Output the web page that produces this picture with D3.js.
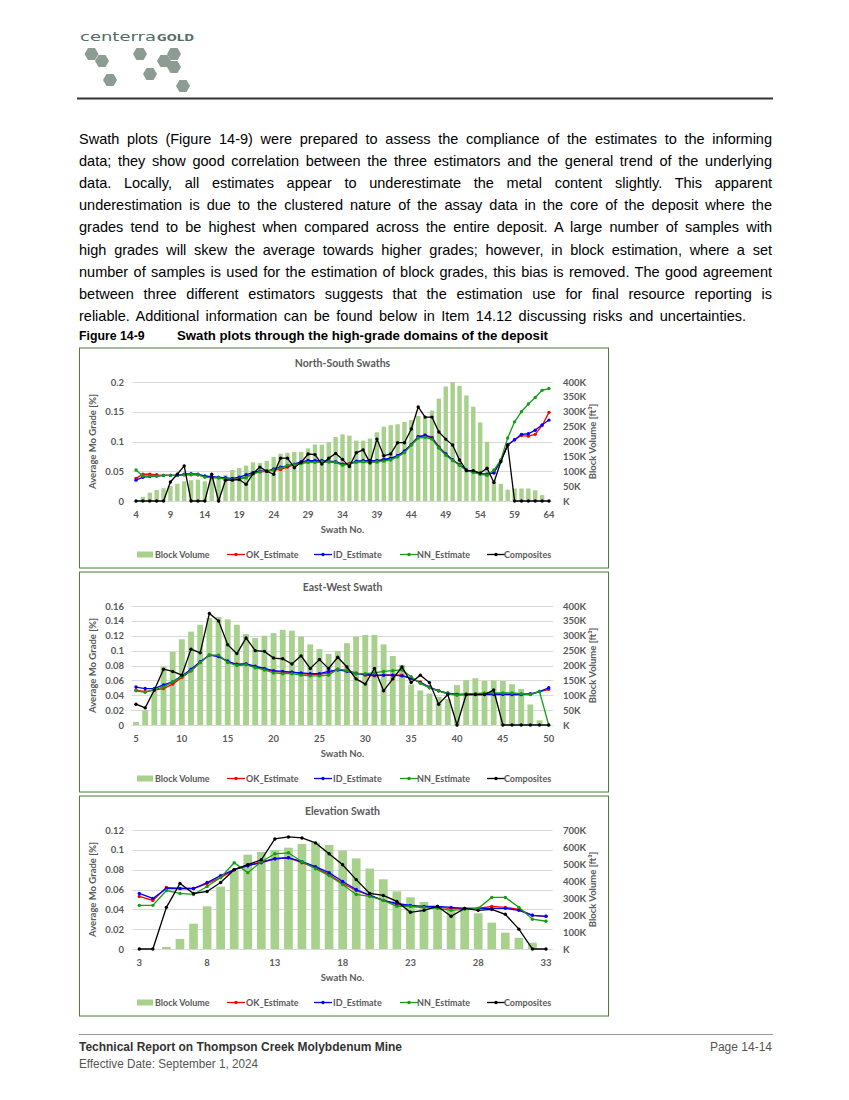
<!DOCTYPE html>
<html><head><meta charset="utf-8">
<script src="https://cdn.jsdelivr.net/npm/d3@7"></script>
<style>
body{margin:0;background:#fff;}
.chart text{font-family:Lato,"Open Sans",sans-serif;font-weight:700;fill:#595959;}
</style></head>
<body><svg id="page" width="849" height="1100"></svg>
<script>
// ---------------- DATA ----------------
const bodyLines = [
"Swath plots (Figure 14-9) were prepared to assess the compliance of the estimates to the informing",
"data; they show good correlation between the three estimators and the general trend of the underlying",
"data. Locally, all estimates appear to underestimate the metal content slightly. This apparent",
"underestimation is due to the clustered nature of the assay data in the core of the deposit where the",
"grades tend to be highest when compared across the entire deposit. A large number of samples with",
"high grades will skew the average towards higher grades; however, in block estimation, where a set",
"number of samples is used for the estimation of block grades, this bias is removed. The good agreement",
"between three different estimators suggests that the estimation use for final resource reporting is",
"reliable. Additional information can be found below in Item 14.12 discussing risks and uncertainties."
];
const legendNames = ["Block Volume","OK_Estimate","ID_Estimate","NN_Estimate","Composites"];

// North-South
const nsSwath = [4,5,6,7,8,9,10,11,12,13,14,15,16,17,18,19,20,21,22,23,24,25,26,27,28,29,30,31,32,33,34,35,36,37,38,39,40,41,42,43,44,45,46,47,48,49,50,51,52,53,54,55,56,57,58,59,60,61,62,63,64];
const nsVolume = [0,14,28,37,43,50,58,66,70,72,66,75,75,88,104,111,119,130,128,135,148,159,162,165,165,177,190,189,198,215,224,220,203,203,210,231,250,255,258,266,272,286,280,304,344,385,400,387,355,317,264,199,70,58,38,42,42,42,36,20,0];
const nsOK = [.038,.045,.045,.044,.043,.043,.043,.044,.044,.044,.041,.040,.039,.037,.036,.038,.040,.046,.049,.050,.052,.053,.057,.061,.064,.066,.066,.066,.066,.065,.062,.063,.066,.067,.066,.066,.069,.071,.076,.083,.095,.108,.111,.107,.091,.079,.069,.061,.052,.049,.046,.044,.048,.068,.094,.103,.110,.109,.112,.127,.149];
const nsID = [.035,.040,.041,.042,.043,.043,.043,.045,.046,.045,.042,.041,.040,.039,.038,.040,.044,.048,.050,.050,.054,.057,.059,.062,.066,.068,.068,.068,.067,.066,.062,.062,.067,.068,.068,.068,.070,.072,.076,.084,.095,.108,.110,.106,.090,.079,.069,.061,.052,.049,.046,.045,.047,.068,.094,.103,.112,.113,.119,.128,.136];
const nsNN = [.052,.042,.042,.042,.043,.043,.043,.044,.045,.044,.040,.039,.039,.037,.036,.037,.039,.046,.049,.051,.052,.055,.060,.061,.063,.065,.065,.066,.066,.065,.060,.062,.065,.066,.065,.066,.067,.069,.074,.081,.094,.106,.107,.104,.089,.077,.068,.060,.051,.048,.045,.043,.052,.069,.106,.133,.150,.163,.174,.186,.189];
const nsComp = [0,0,0,0,0,.032,.045,.059,0,0,0,.045,0,.035,.035,.036,.028,.046,.057,.050,.045,.072,.072,.056,.065,.079,.078,.062,.072,.080,.070,.058,.081,.086,.064,.104,.076,.079,.098,.098,.121,.158,.141,.141,.116,.104,.094,.069,.051,.051,.047,.055,.031,.066,.094,0,0,0,0,0,0];
const nsXTicks = [4,9,14,19,24,29,34,39,44,49,54,59,64];
const nsGradeTicks = [0,0.05,0.1,0.15,0.2];
const nsVolTicks = [0,50,100,150,200,250,300,350,400];

// East-West
const ewSwath = [5,6,7,8,9,10,11,12,13,14,15,16,17,18,19,20,21,22,23,24,25,26,27,28,29,30,31,32,33,34,35,36,37,38,39,40,41,42,43,44,45,46,47,48,49,50];
const ewVolume = [10,49,115,196,246,288,314,337,360,363,355,337,306,292,300,309,320,317,297,271,255,239,249,275,297,303,303,271,232,202,136,116,106,95,87,134,151,157,148,150,148,137,121,69,16,0];
const ewOK = [.047,.045,.047,.049,.055,.064,.073,.084,.094,.093,.085,.082,.082,.078,.075,.072,.071,.071,.069,.068,.068,.070,.075,.073,.070,.067,.066,.067,.067,.067,.062,.058,.050,.046,.042,.041,.041,.042,.042,.042,.042,.041,.041,.041,.045,.048];
const ewID = [.051,.049,.049,.054,.058,.066,.075,.085,.094,.092,.086,.081,.082,.079,.076,.073,.072,.071,.070,.069,.069,.072,.074,.072,.069,.068,.067,.067,.067,.066,.063,.057,.051,.046,.043,.041,.041,.041,.041,.041,.041,.041,.041,.042,.045,.050];
const ewNN = [.046,.044,.048,.051,.058,.065,.073,.084,.094,.094,.084,.080,.081,.077,.074,.070,.069,.069,.067,.066,.066,.067,.075,.073,.069,.069,.070,.072,.073,.074,.065,.056,.050,.046,.042,.040,.042,.042,.043,.043,.043,.043,.042,.041,.045,0];
const ewComp = [.028,.023,.047,.075,.072,.067,.102,.097,.150,.140,.108,.096,.117,.100,.099,.090,.089,.082,.093,.076,.088,.076,.091,.078,.062,.055,.076,.046,.062,.078,.057,.067,.057,.028,.041,0,.041,.041,.041,.047,0,0,0,0,0,0];
const ewXTicks = [5,10,15,20,25,30,35,40,45,50];
const ewGradeTicks = [0,0.02,0.04,0.06,0.08,0.1,0.12,0.14,0.16];
const ewVolTicks = [0,50,100,150,200,250,300,350,400];

// Elevation
const elSwath = [3,4,5,6,7,8,9,10,11,12,13,14,15,16,17,18,19,20,21,22,23,24,25,26,27,28,29,30,31,32,33];
const elVolume = [0,0,12,59,149,251,367,461,555,571,582,596,618,626,612,579,533,473,410,339,304,277,253,241,237,210,155,96,66,37,0];
const elOK = [.053,.049,.062,.061,.061,.066,.072,.080,.084,.088,.091,.092,.087,.082,.075,.066,.059,.054,.049,.045,.043,.042,.042,.041,.041,.041,.043,.042,.040,.034,.033];
const elID = [.056,.051,.061,.061,.061,.067,.074,.080,.084,.087,.091,.092,.088,.083,.077,.068,.060,.054,.049,.046,.044,.043,.043,.042,.041,.041,.041,.041,.039,.034,.033];
const elNN = [.044,.044,.059,.056,.055,.063,.072,.087,.077,.088,.096,.097,.088,.081,.074,.065,.055,.053,.049,.043,.043,.042,.041,.039,.040,.041,.052,.052,.042,.030,.028];
const elComp = [0,0,.042,.066,.056,.058,.067,.080,.085,.090,.111,.113,.112,.107,.096,.085,.070,.056,.054,.048,.037,.039,.043,.033,.041,.039,.040,.035,.020,0,0];
const elXTicks = [3,8,13,18,23,28,33];
const elGradeTicks = [0,0.02,0.04,0.06,0.08,0.1,0.12];
const elVolTicks = [0,100,200,300,400,500,600,700];

// ---------------- PAGE ----------------
const svg = d3.select("#page");

// logo
const hexCenters = [[91.5,54],[102,61],[110,80],[140,54],[150,74],[164,61],[174,54],[174,67],[183,86]];
const hex = r => d3.range(6).map(k => [r*Math.cos(Math.PI/3*k), r*Math.sin(Math.PI/3*k)]);
svg.append("g").selectAll("polygon").data(hexCenters).join("polygon")
  .attr("points", d => hex(7).map(p => [p[0]+d[0], p[1]+d[1]].join(",")).join(" "))
  .attr("fill", "#8c9c92");
svg.append("text").attr("x",80).attr("y",41).attr("font-family","DejaVu Sans").attr("font-size",12)
  .attr("fill","#566d67").attr("textLength",76).attr("lengthAdjust","spacingAndGlyphs").text("centerra");
svg.append("text").attr("x",157).attr("y",41).attr("font-family","DejaVu Sans").attr("font-weight",700).attr("font-size",8.5)
  .attr("fill","#566d67").attr("textLength",37).attr("lengthAdjust","spacingAndGlyphs").text("GOLD");
svg.append("line").attr("x1",77).attr("x2",773).attr("y1",98.5).attr("y2",98.5).attr("stroke","#333").attr("stroke-width",2);

// body text, justified
const bodyG = svg.append("g").attr("font-family","'Liberation Sans',Arial,sans-serif").attr("font-size",14.5).attr("fill","#000");
bodyLines.forEach((t,i) => {
  const el = bodyG.append("text").attr("x",79).attr("y",144 + i*22.1).text(t);
  const w = el.node().getComputedTextLength();
  const target = i < bodyLines.length-1 ? 693 : 667;
  const spaces = (t.match(/ /g)||[]).length;
  el.attr("word-spacing", (target - w)/spaces);
});
// caption
const capG = svg.append("g").attr("font-family","'Liberation Sans',Arial,sans-serif").attr("font-size",12.3).attr("font-weight",700).attr("fill","#000");
capG.append("text").attr("x",79).attr("y",340).text("Figure 14-9");
capG.append("text").attr("x",177).attr("y",340).attr("textLength",371).attr("lengthAdjust","spacingAndGlyphs").text("Swath plots through the high-grade domains of the deposit");

// footer
svg.append("line").attr("x1",79).attr("x2",773).attr("y1",1034.5).attr("y2",1034.5).attr("stroke","#999").attr("stroke-width",1);
const ft = svg.append("g").attr("font-family","'Liberation Sans Narrow','Liberation Sans',Arial,sans-serif").attr("font-size",12);
ft.append("text").attr("x",79).attr("y",1051).attr("font-weight",700).attr("fill","#333").attr("textLength",323).attr("lengthAdjust","spacingAndGlyphs").text("Technical Report on Thompson Creek Molybdenum Mine");
ft.append("text").attr("x",79).attr("y",1068).attr("fill","#555").attr("textLength",179).attr("lengthAdjust","spacingAndGlyphs").text("Effective Date: September 1, 2024");
ft.append("text").attr("x",772).attr("y",1051).attr("fill","#555").attr("text-anchor","end").text("Page 14-14");

// ---------------- CHARTS ----------------
const colors = {vol:"#a9d18e", ok:"#ff0000", id:"#0000ff", nn:"#12a012", comp:"#000000"};
const gradeFmt = d => d === 0 ? "0" : String(+d.toFixed(3));
const volFmt = d => d === 0 ? "K" : d + "K";

function drawChart(cfg){
  const {y0, c0, c1, cats, vol, ok, id, nn, comp, title, gMax, gTicks, vMax, vTicks, xTicks} = cfg;
  const g = svg.append("g").attr("class","chart");
  g.append("rect").attr("x",79.5).attr("y",y0-153).attr("width",529).attr("height",220)
    .attr("fill","#fff").attr("stroke","#4f7c3c").attr("stroke-width",1);
  const n = cats.length, step = (c1-c0)/(n-1);
  const x = d3.scaleBand().domain(cats).range([c0-step/2, c1+step/2]).paddingInner(0.36).paddingOuter(0.18);
  const cx = d => x(d) + x.bandwidth()/2;
  const y = d3.scaleLinear().domain([0,gMax]).range([y0, y0-119]);
  const yv = d3.scaleLinear().domain([0,vMax]).range([y0, y0-119]);
  // grid
  g.append("g").selectAll("line").data(gTicks).join("line")
    .attr("x1", c0-step/2).attr("x2", c1+step/2).attr("y1", d=>Math.round(y(d))+0.5).attr("y2", d=>Math.round(y(d))+0.5)
    .attr("stroke","#d9d9d9").attr("stroke-width",1);
  // bars
  g.append("g").selectAll("rect").data(cats).join("rect")
    .attr("x", d=>x(d)).attr("width", x.bandwidth())
    .attr("y", (d,i)=>yv(vol[i])).attr("height", (d,i)=>y0 - yv(vol[i]))
    .attr("fill", colors.vol);
  // lines
  const series = [[ok,colors.ok],[id,colors.id],[nn,colors.nn],[comp,colors.comp]];
  series.forEach(([vals,col]) => {
    const pts = cats.map((c,i)=>[cx(c), y(vals[i])]);
    g.append("path").attr("d", d3.line()(pts)).attr("fill","none").attr("stroke",col).attr("stroke-width",1.3);
    g.append("g").selectAll("circle").data(pts).join("circle")
      .attr("cx",d=>d[0]).attr("cy",d=>d[1]).attr("r",1.7).attr("fill",col);
  });
  // axes
  const ax = g.append("g").attr("transform",`translate(127,0)`)
    .call(d3.axisLeft(y).tickValues(gTicks).tickFormat(gradeFmt).tickSize(0).tickPadding(3));
  const axr = g.append("g").attr("transform",`translate(560,0)`)
    .call(d3.axisRight(yv).tickValues(vTicks).tickFormat(volFmt).tickSize(0).tickPadding(3));
  const axb = g.append("g").attr("transform",`translate(0,${y0+10})`)
    .call(d3.axisBottom(x).tickValues(xTicks).tickSize(0).tickPadding(0));
  [ax,axr,axb].forEach(a => {
    a.select(".domain").remove();
    a.selectAll("text").attr("font-size",9.5).attr("font-family","Lato").attr("font-weight",700).attr("fill","#595959");
  });
  // titles
  g.append("text").attr("x",342.5).attr("y",y0-138).attr("dy","0.35em").attr("text-anchor","middle")
    .attr("font-size",10.5).text(title);
  g.append("text").attr("x",342.5).attr("y",y0+29).attr("dy","0.35em").attr("text-anchor","middle")
    .attr("font-size",9.5).text("Swath No.");
  g.append("text").attr("transform",`translate(93,${y0-59.5}) rotate(-90)`).attr("dy","0.35em").attr("text-anchor","middle")
    .attr("font-size",9.5).text("Average Mo Grade [%]");
  g.append("text").attr("transform",`translate(593,${y0-59.5}) rotate(-90)`).attr("dy","0.35em").attr("text-anchor","middle")
    .attr("font-size",9.5).text("Block Volume [ft³]");
  // legend
  const ly = y0 + 53.5;
  const lg = g.append("g");
  lg.append("rect").attr("x",137).attr("y",ly-3).attr("width",16).attr("height",6).attr("fill",colors.vol);
  lg.append("text").attr("x",155).attr("y",ly).attr("dy","0.35em").attr("font-size",9).text(legendNames[0]);
  const lx = [[227,246],[314,333],[400,417],[487,504]];
  const lc = [colors.ok, colors.id, colors.nn, colors.comp];
  lx.forEach(([x1,tx],k) => {
    lg.append("line").attr("x1",x1).attr("x2",x1+18).attr("y1",ly).attr("y2",ly).attr("stroke",lc[k]).attr("stroke-width",1.3);
    lg.append("circle").attr("cx",x1+9).attr("cy",ly).attr("r",1.7).attr("fill",lc[k]);
    lg.append("text").attr("x",tx).attr("y",ly).attr("dy","0.35em").attr("font-size",9).text(legendNames[k+1]);
  });
}

drawChart({y0:501, c0:136, c1:549, cats:nsSwath, vol:nsVolume, ok:nsOK, id:nsID, nn:nsNN, comp:nsComp,
  title:"North-South Swaths", gMax:0.2, gTicks:nsGradeTicks, vMax:400, vTicks:nsVolTicks, xTicks:nsXTicks});
drawChart({y0:725, c0:136, c1:548.7, cats:ewSwath, vol:ewVolume, ok:ewOK, id:ewID, nn:ewNN, comp:ewComp,
  title:"East-West Swath", gMax:0.16, gTicks:ewGradeTicks, vMax:400, vTicks:ewVolTicks, xTicks:ewXTicks});
drawChart({y0:949, c0:139.3, c1:546, cats:elSwath, vol:elVolume, ok:elOK, id:elID, nn:elNN, comp:elComp,
  title:"Elevation Swath", gMax:0.12, gTicks:elGradeTicks, vMax:700, vTicks:elVolTicks, xTicks:elXTicks});
</script>
</body></html>
